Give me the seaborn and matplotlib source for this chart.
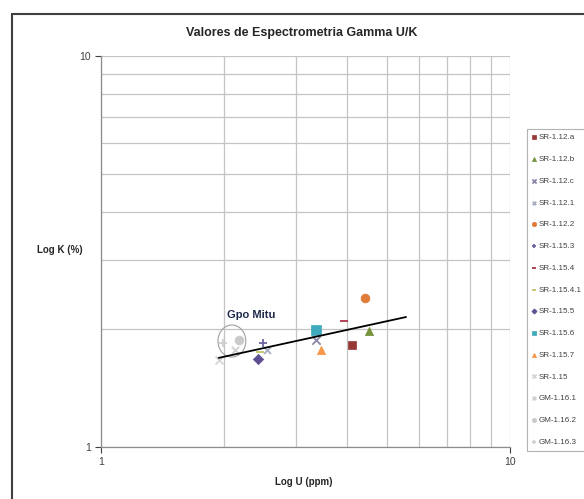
import matplotlib
matplotlib.use("Agg")
import matplotlib.pyplot as plt
import seaborn as sns
from matplotlib.patches import Ellipse, Rectangle
from matplotlib.ticker import FixedLocator, NullFormatter, FixedFormatter, LogLocator

# ---- data ----
series = ["SR-1.12.a", "SR-1.12.b", "SR-1.12.c", "SR-1.12.1", "SR-1.12.2",
          "SR-1.15.3", "SR-1.15.4", "SR-1.15.4.1", "SR-1.15.5", "SR-1.15.6",
          "SR-1.15.7", "SR-1.15", "GM-1.16.1", "GM-1.16.2", "GM-1.16.3"]
u_ppm = [4.11, 4.52, 3.36, 2.55, 4.43, 2.49, 3.93, 2.45, 2.42, 3.35, 3.45, 1.94, 2.13, 2.17, 1.99]
k_pct = [1.82, 1.98, 1.88, 1.77, 2.40, 1.84, 2.10, 1.75, 1.68, 1.99, 1.77, 1.67, 1.77, 1.88, 1.85]
markers = ["s", "^", "x", "x", "o", "+", "_", "_", "D", "s", "^", "x", "x", "o", "+"]
colors = ["#953735", "#77933C", "#8A86A6", "#A8AEC0", "#E07B39", "#6A64A0", "#A8344E",
          "#C2C46A", "#5E4F92", "#3FA9BE", "#F79646", "#D4D4D4", "#CFCFCF", "#CACACA", "#CFCFCF"]
sizes = [36, 36, 36, 25, 40, 40, 28, 40, 28, 48, 36, 32, 28, 40, 32]

trend_u = [1.94, 5.57]
trend_k = [1.69, 2.15]

sns.set_theme(style="white")
plt.rcParams["font.family"] = ["Liberation Sans", "DejaVu Sans"]

fig = plt.figure(figsize=(5.84, 4.99), dpi=100)
ax = fig.add_axes([101/584, 1-447/499, 409/584, 391/499])

for name, x, y, m, c, s in zip(series, u_ppm, k_pct, markers, colors, sizes):
    if m in ("x", "+", "_"):
        sns.scatterplot(x=[x], y=[y], marker=m, color=c, s=s, linewidth=1.3, label=name, ax=ax)
    else:
        sns.scatterplot(x=[x], y=[y], marker=m, color=c, s=s, edgecolor=c, linewidth=0.5,
                        label=name, ax=ax)

sns.lineplot(x=trend_u, y=trend_k, color="black", linewidth=1.3, ax=ax, legend=False)

ax.set_xscale("log")
ax.set_yscale("log")
ax.set_xlim(1, 10)
ax.set_ylim(1, 10)
ax.xaxis.set_major_locator(FixedLocator([1, 10]))
ax.yaxis.set_major_locator(FixedLocator([1, 10]))
ax.xaxis.set_major_formatter(FixedFormatter(["1", "10"]))
ax.yaxis.set_major_formatter(FixedFormatter(["1", "10"]))
ax.xaxis.set_minor_locator(LogLocator(base=10, subs=range(2, 10)))
ax.yaxis.set_minor_locator(LogLocator(base=10, subs=range(2, 10)))
ax.xaxis.set_minor_formatter(NullFormatter())
ax.yaxis.set_minor_formatter(NullFormatter())
ax.grid(True, which="both", color="#C4C4C4", linewidth=0.9)
ax.set_axisbelow(True)
for sp in ["top", "right"]:
    ax.spines[sp].set_visible(False)
for sp in ["left", "bottom"]:
    ax.spines[sp].set_color("#8C8C8C")
    ax.spines[sp].set_linewidth(0.9)
ax.tick_params(axis="both", which="major", labelsize=7.5, colors="#404040",
               length=4, width=0.8, direction="out", left=True, bottom=True)
ax.tick_params(axis="both", which="minor", length=0)
ax.set_xlabel("")
ax.set_ylabel("")

# annotation & ellipse
ax.text(0.308, 0.338, "Gpo Mitu", transform=ax.transAxes, fontsize=8, fontweight="bold",
        color="#1F2A4A", ha="left", va="center")
ax.add_patch(Ellipse((0.320, 0.271), 0.068, 0.082, transform=ax.transAxes, fill=False,
                     edgecolor="#A0A0A0", linewidth=0.8))

# titles and labels
fig.text(302/584, 1-33/499, "Valores de Espectrometria Gamma U/K", ha="center", va="center",
         fontsize=9, fontweight="bold", color="#262626")
fig.text(60/584, 1-250/499, "Log K (%)", ha="center", va="center",
         fontsize=7, fontweight="bold", color="#262626")
fig.text(304/584, 1-482/499, "Log U (ppm)", ha="center", va="center",
         fontsize=7, fontweight="bold", color="#262626")

# legend
if ax.legend_:
    ax.legend_.remove()
handles, labels = ax.get_legend_handles_labels()
leg = fig.legend(handles, labels, loc="upper left", bbox_to_anchor=(527/584, 1-129/499),
                 fontsize=5.8, frameon=True, labelspacing=1.75, handlelength=0.6,
                 handletextpad=0.3, borderpad=0.6, markerscale=0.5, fancybox=False,
                 borderaxespad=0)
leg.get_frame().set_edgecolor("#A0A0A0")
leg.get_frame().set_linewidth(0.8)
for t in leg.get_texts():
    t.set_color("#404040")

# outer chart border
top = 1 - 14/499
fig.patches.append(Rectangle((12/584, -0.2), 1.5, top + 0.2, transform=fig.transFigure,
                             fill=False, edgecolor="#404040", linewidth=1.5))

fig.savefig("out.png", dpi=100)
